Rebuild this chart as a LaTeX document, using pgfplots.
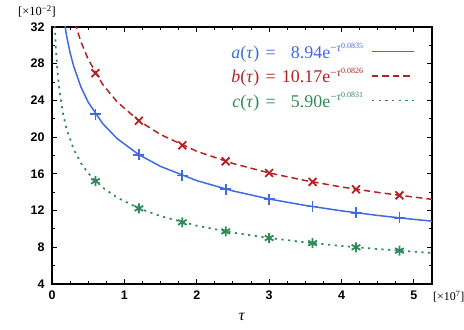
\documentclass[border=0pt]{standalone}
\usepackage{pgfplots}
\pgfplotsset{compat=1.18}
\usepackage{fontspec}
\setmainfont{Liberation Serif}
\newfontfamily\hel{Liberation Sans}

\definecolor{cA}{RGB}{65,105,225}
\definecolor{cB}{RGB}{178,34,34}
\definecolor{cC}{RGB}{46,139,87}

% tau in units of 1e7, values in units of 1e-2
\pgfplotstableread{
x a b c
0.035 nan nan 32.83
0.05 nan nan 30.10
0.07 nan nan 27.66
0.10 nan nan 25.23
0.15 33.68 nan 22.65
0.20 31.10 36.96 20.93
0.25 29.20 34.75 nan
0.30 27.71 33.01 18.67
0.35 nan 31.59 nan
0.40 25.46 30.40 17.17
0.50 23.81 28.48 16.07
0.70 21.48 25.75 14.51
0.90 19.84 23.84 13.42
1.20 18.09 21.78 12.24
1.50 16.81 20.28 11.39
2.00 15.26 18.46 10.35
2.50 14.14 17.13 9.60
3.00 13.26 16.10 9.01
3.50 12.56 15.27 8.54
4.00 11.97 14.57 8.14
4.50 11.47 13.98 7.81
5.00 11.04 13.47 7.52
5.25 10.85 13.23 7.38
}\curves

\pgfplotstableread{
x a b c
0.6 22.52 26.97 15.21
1.2 18.09 21.78 12.24
1.8 15.82 19.11 10.72
2.4 14.34 17.37 9.73
3.0 13.26 16.10 9.01
3.6 12.44 15.12 8.45
4.2 11.77 14.32 8.00
4.8 11.21 13.66 7.63
}\points

\newcommand{\supA}[1]{\raisebox{0.8ex}{\fontsize{11.5}{11}\selectfont #1}}
\newcommand{\supB}[1]{\raisebox{0.6ex}{\fontsize{8}{8}\selectfont #1}}
\newcommand{\eqs}{\hspace{0.35em}=\hspace{0.35em}}

\begin{document}
\begin{tikzpicture}
\path[use as bounding box] (-52bp,-46bp) rectangle (412bp,284bp);
\begin{axis}[
    name=ax,
    at={(0,0)}, anchor=south west,
    scale only axis,
    width=380bp, height=257bp,
    xmin=0, xmax=5.25,
    ymin=4, ymax=32,
    xtick={0,1,2,3,4,5},
    ytick={4,8,12,16,20,24,28,32},
    minor x tick num=3,
    minor y tick num=1,
    major tick length=5bp,
    minor tick length=3bp,
    tick style={black, line width=1pt},
    axis line style={line width=1.4pt},
    /pgf/number format/assume math mode=true,
    tick label style={font=\hel\bfseries\fontsize{12.5}{14}\selectfont},
    yticklabel style={xshift=-4bp},
    xticklabel style={yshift=-3bp},
    xlabel={\fontsize{16}{17}\selectfont\textit{τ}},
    xlabel style={yshift=-7bp},
    legend style={draw=none, fill=none, at={(1,1)}, anchor=north east,
        xshift=-14bp, yshift=-12bp, row sep=4bp, column sep=6bp,
        font=\fontsize{18}{20}\selectfont},
    legend cell align=right,
    legend plot pos=right,
    legend image code/.code={\draw[#1] (0bp,0bp) -- (42bp,0bp);},
]
\addplot[cA, line width=1.5pt, no marks, unbounded coords=discard] table[x=x, y=a] {\curves};
\addlegendentry{\textcolor{cA}{\textit{a}(\textit{τ})\eqs\phantom{1}8.94e\supA{−\textit{τ}\supB{0.0835}}}}
\addplot[cB, line width=1.5pt, no marks, dash pattern=on 6.5bp off 4bp, unbounded coords=discard] table[x=x, y=b] {\curves};
\addlegendentry{\textcolor{cB}{\textit{b}(\textit{τ})\eqs10.17e\supA{−\textit{τ}\supB{0.0826}}}}
\addplot[cC, line width=1.7pt, no marks, dash pattern=on 2.2bp off 4.5bp, unbounded coords=discard] table[x=x, y=c] {\curves};
\addlegendentry{\textcolor{cC}{\textit{c}(\textit{τ})\eqs\phantom{1}5.90e\supA{−\textit{τ}\supB{0.0831}}}}

\addplot[cA, only marks, mark=+, mark size=5.5bp, mark options={line width=1.8pt}, forget plot] table[x=x, y=a] {\points};
\addplot[cB, only marks, mark=x, mark size=5.5bp, mark options={line width=1.8pt}, forget plot] table[x=x, y=b] {\points};
\addplot[cC, only marks, mark=asterisk, mark size=5bp, mark options={line width=1.8pt}, forget plot] table[x=x, y=c] {\points};
\end{axis}
\node[anchor=south, font=\fontsize{12.5}{13}\selectfont] at (ax.north west) [xshift=-15bp, yshift=6bp] {[×10\textsuperscript{−2}]};
\node[anchor=north west, font=\fontsize{12}{13}\selectfont, inner sep=0pt] at (ax.south east) [xshift=1bp, yshift=-7bp] {[×10\textsuperscript{7}]};
\end{tikzpicture}
\end{document}
